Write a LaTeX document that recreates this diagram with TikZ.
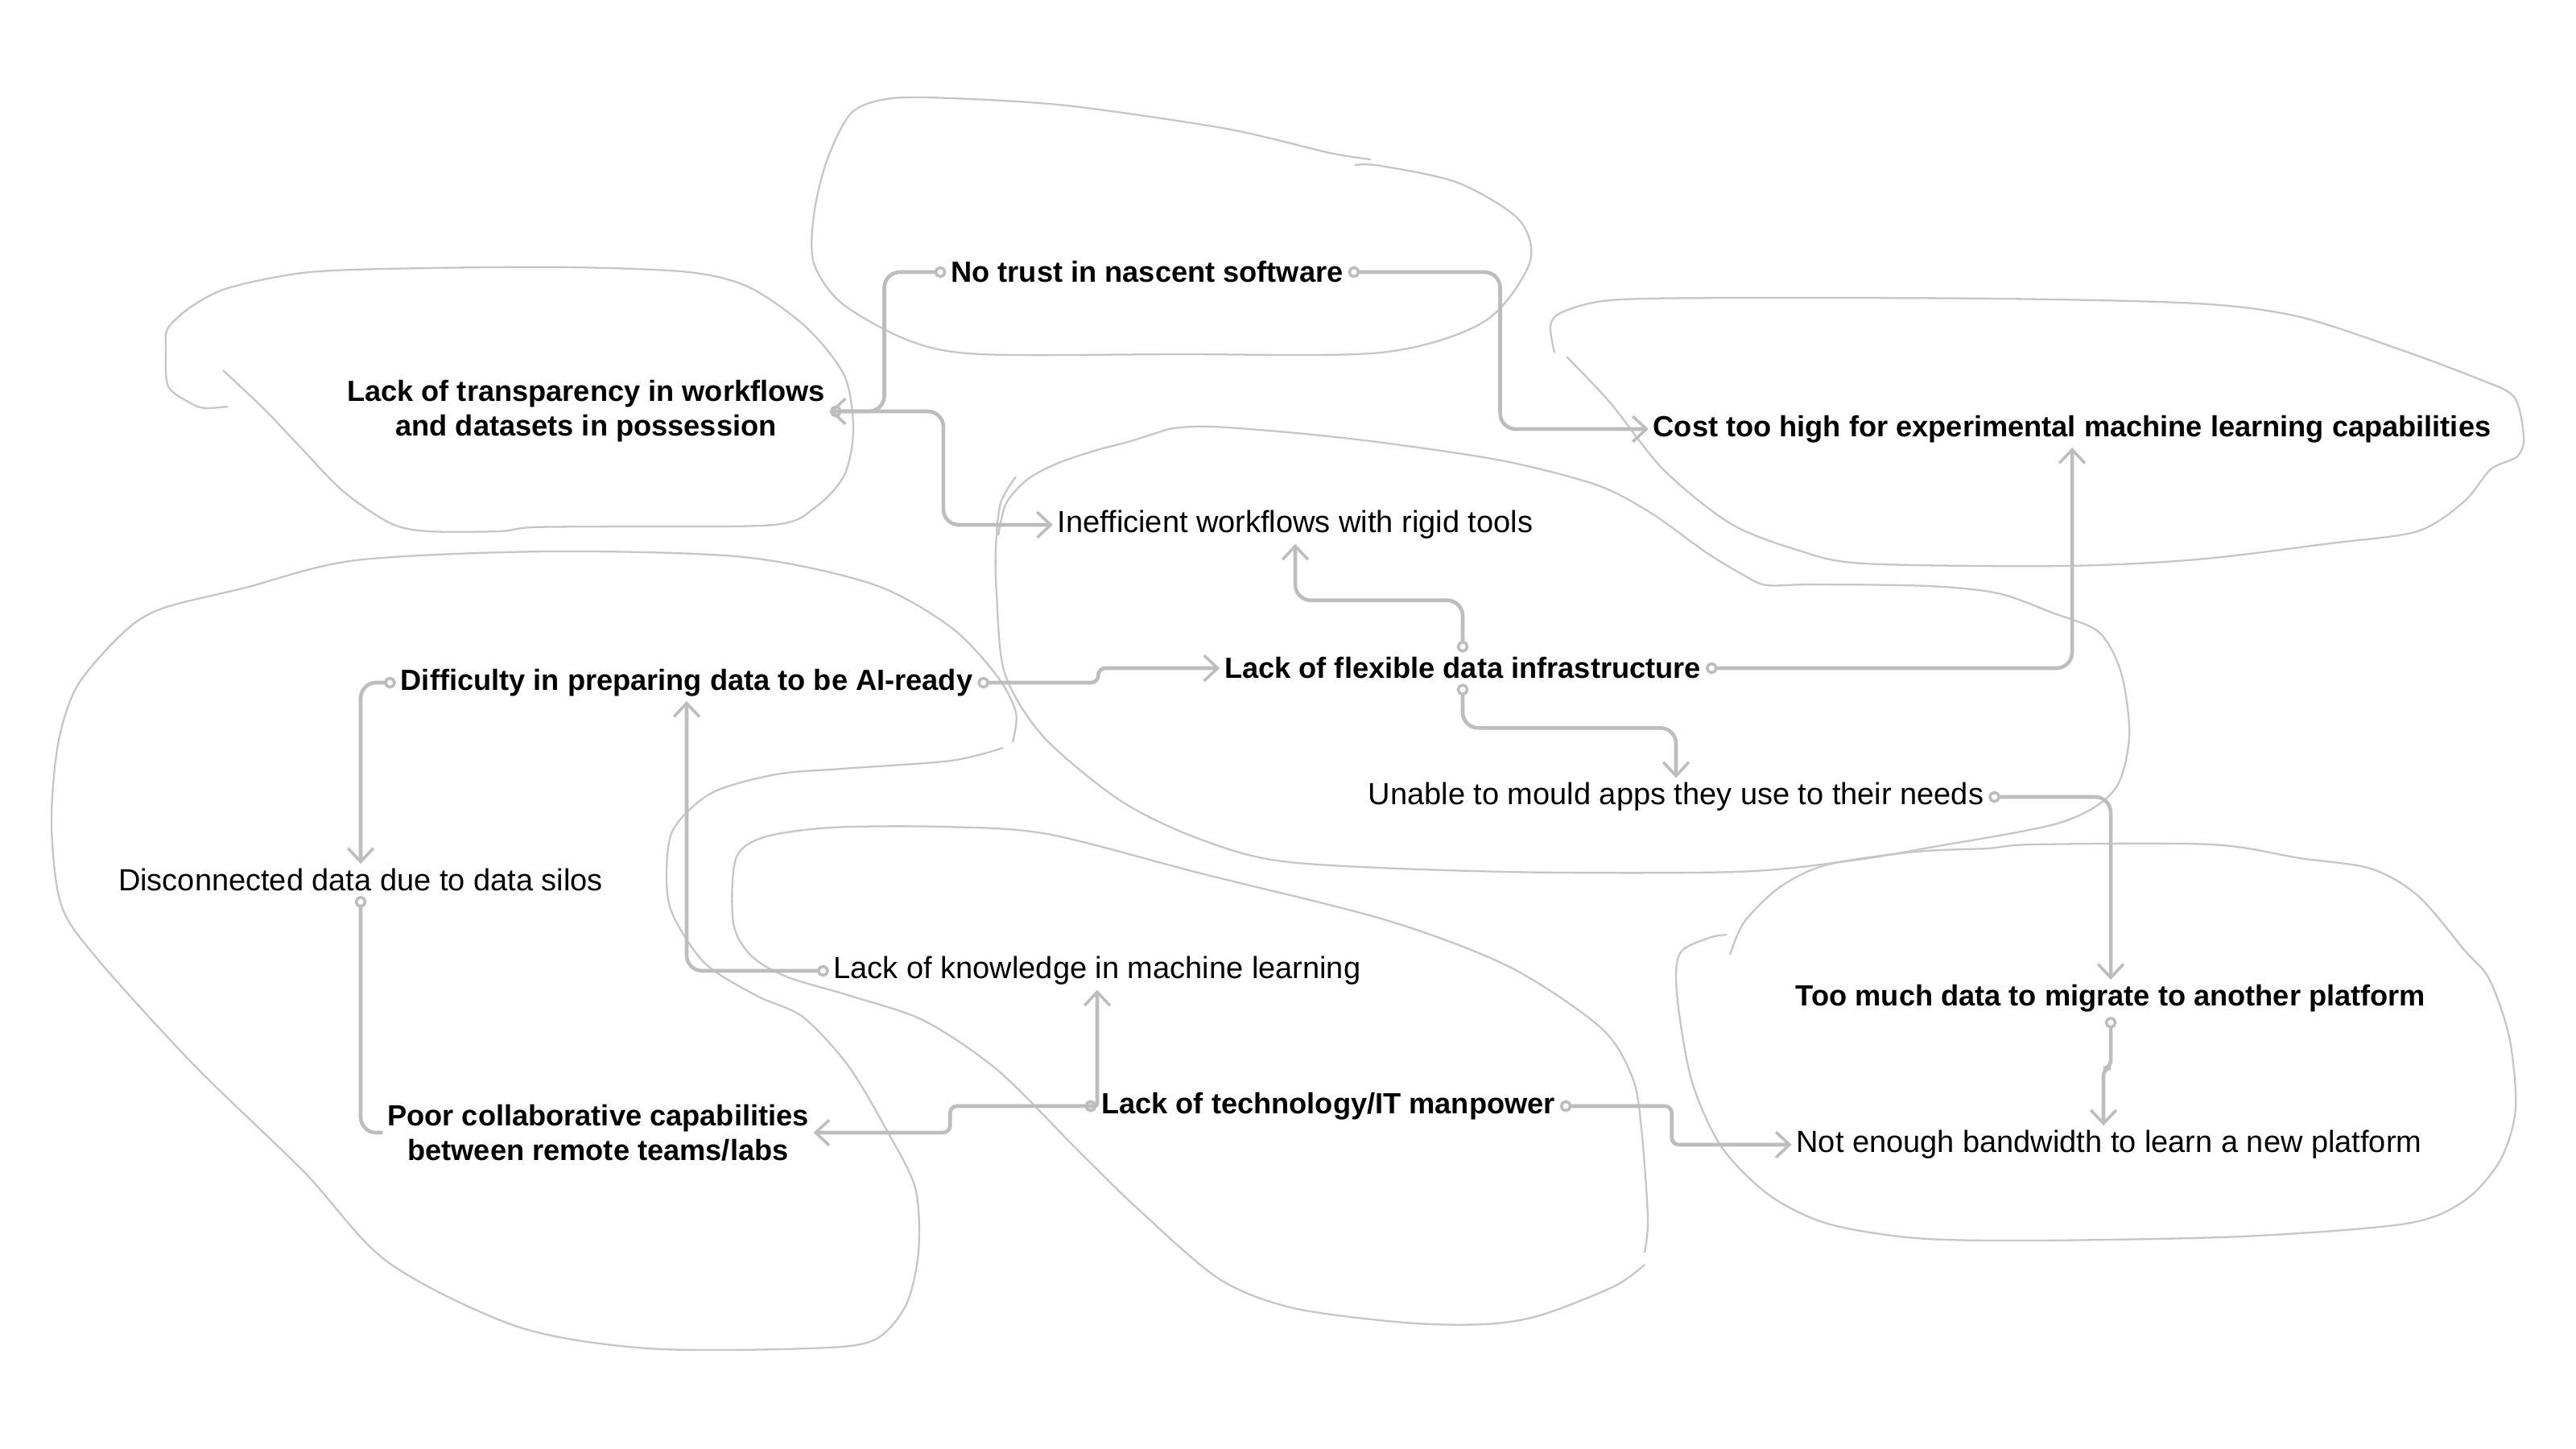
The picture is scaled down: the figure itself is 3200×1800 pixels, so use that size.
\documentclass[tikz,border=0pt]{standalone}
\usepackage{fontspec}
\setmainfont{Liberation Sans}
\usetikzlibrary{arrows.meta}
\definecolor{linkgray}{HTML}{BDBDBD}
\definecolor{blobgray}{HTML}{C6C6C6}
\begin{document}
\begin{tikzpicture}[x=0.01cm, y=-0.01cm,
    main/.style = {inner sep=1.5pt, align=center, font=\fontsize{10.3}{12.2}\selectfont\bfseries},
    side/.style = {inner sep=1.5pt, font=\fontsize{10.8}{13}\selectfont},
    knob/.tip = {Circle[open, length=4.2pt, line width=1pt]},
    barb/.tip = {Straight Barb[length=4.8pt, width=9pt, line width=1pt]},
    link/.style = {draw=linkgray, line width=1.3pt, rounded corners=5.5pt, knob-barb},
    blob/.style = {draw=blobgray, line width=0.65pt}]
  \useasboundingbox (0,0) rectangle (3200,1800);
  % hand drawn groups
  \draw[blob] plot[smooth] coordinates {(1703,198) (1652,190) (1524,160) (1333,132) (1205,123) (1109,122) (1058,140) (1027,200) (1011,267) (1011,327) (1046,377) (1129,423) (1218,440) (1460,440) (1715,438) (1843,400) (1900,327) (1887,273) (1811,227) (1715,206) (1683,205)};
  \draw[blob] plot[smooth] coordinates {(283,505) (256,507) (239,502) (209,480) (206,433) (209,407) (239,380) (286,357) (385,338) (532,333) (708,332) (855,338) (931,357) (1002,407) (1049,467) (1060,533) (1049,590) (1013,630) (961,652) (767,654) (661,655) (620,660) (532,660) (485,650) (426,610) (368,550) (327,507) (277,460)};
  \draw[blob] plot[smooth] coordinates {(1931,438) (1926,405) (1940,388) (2000,373) (2149,370) (2480,371) (2729,377) (2854,393) (2978,433) (3077,470) (3123,493) (3135,543) (3127,567) (3094,583) (3061,623) (3003,660) (2895,675) (2729,695) (2563,703) (2315,700) (2232,683) (2149,650) (2066,583) (2000,500) (1946,443)};
  \draw[blob] plot[smooth] coordinates {(1262,592) (1243,625) (1237,680) (1238,737) (1248,836) (1296,915) (1391,994) (1487,1041) (1602,1071) (1870,1083) (2157,1083) (2300,1069) (2396,1053) (2559,1022) (2626,982) (2645,915) (2635,836) (2607,785) (2549,761) (2482,737) (2396,728) (2253,726) (2195,727) (2167,715) (2119,686) (2052,638) (1985,603) (1870,573) (1726,551) (1611,538) (1506,530) (1458,532) (1430,540) (1401,549) (1363,559) (1315,575) (1277,595) (1250,625) (1240,665)};
  \draw[blob] plot[smooth] coordinates {(1246,929) (1181,945) (1045,955) (964,962) (884,985) (836,1031) (828,1091) (836,1137) (876,1197) (940,1237) (997,1263) (1053,1323) (1101,1403) (1137,1476) (1141,1555) (1125,1622) (1085,1665) (1005,1675) (804,1675) (643,1648) (482,1568) (378,1456) (241,1323) (120,1190) (76,1124) (64,1025) (72,925) (96,852) (153,786) (201,756) (305,730) (442,696) (683,685) (924,692) (1085,726) (1181,779) (1238,839) (1262,885) (1258,922)};
  \draw[blob] plot[smooth] coordinates {(2043,1556) (2047,1513) (2039,1402) (2028,1339) (1989,1277) (1875,1201) (1722,1143) (1492,1085) (1301,1036) (1171,1027) (1033,1028) (949,1040) (914,1067) (911,1147) (934,1188) (979,1214) (1056,1237) (1148,1268) (1240,1330) (1339,1429) (1416,1504) (1515,1589) (1607,1625) (1745,1643) (1844,1645) (1913,1634) (2005,1598) (2043,1571)};
  \draw[blob] plot[smooth] coordinates {(2149,1186) (2167,1145) (2211,1102) (2270,1074) (2380,1058) (2468,1054) (2527,1049) (2747,1049) (2857,1066) (2945,1079) (3004,1113) (3062,1181) (3092,1216) (3117,1288) (3125,1377) (3106,1441) (3062,1491) (2989,1520) (2784,1536) (2527,1541) (2380,1538) (2270,1520) (2197,1484) (2138,1424) (2101,1341) (2083,1234) (2087,1184) (2123,1165) (2145,1161)};
  % problems
  \node[main] (notrust) at (1425,338) {No trust in nascent software};
  \node[main] (transp) at (728,511) {Lack of transparency in workflows\\and datasets in possession};
  \node[main] (cost) at (2574,533) {Cost too high for experimental machine learning capabilities};
  \node[side] (ineff) at (1609,652) {Inefficient workflows with rigid tools};
  \node[main] (flexible) at (1817,830) {Lack of flexible data infrastructure};
  \node[main] (difficulty) at (853,848) {Difficulty in preparing data to be AI-ready};
  \node[side] (unable) at (2082,990) {Unable to mould apps they use to their needs};
  \node[side] (silos) at (448,1093) {Disconnected data due to data silos};
  \node[side] (knowledge) at (1363,1206) {Lack of knowledge in machine learning};
  \node[main] (toomuch) at (2622,1240) {Too much data to migrate to another platform};
  \node[main] (techit) at (1650,1374) {Lack of technology/IT manpower};
  \node[main] (poor) at (743,1407) {Poor collaborative capabilities\\between remote teams/labs};
  \node[side] (bandwidth) at (2620,1422) {Not enough bandwidth to learn a new platform};
  % links
  \draw[link] (notrust.west) -- ++(-77,0) |- (transp.east);
  \draw[link] (transp.east) -- ++(141,0) |- (ineff.west);
  \draw[link] (notrust.east) -- ++(189,0) |- (cost.west);
  \draw[link] (flexible.north) -- ++(0,-65) -| (ineff.south);
  \draw[link] (flexible.south) -- ++(0,55) -| (unable.north);
  \draw[link] (flexible.east) -| (cost.south);
  \draw[link, rounded corners=2.5pt] (difficulty.east) -- ++(150,0) |- (flexible.west);
  \draw[link] (unable.east) -| (toomuch.north);
  \draw[link, rounded corners=2.5pt] (toomuch.south) -- ++(0,64) -| ([xshift=-0.07cm]bandwidth.north);
  \draw[link] (difficulty.west) -| (silos.north);
  \draw[link, knob-] (silos.south) |- (poor.west);
  \draw[link] (knowledge.west) -| (difficulty.south);
  \draw[link, rounded corners=1pt] (techit.west) -| (knowledge.south);
  \draw[link, rounded corners=2.5pt] (techit.west) -- ++(-182,0) |- (poor.east);
  \draw[link, rounded corners=2.5pt] (techit.east) -- ++(139,0) |- (bandwidth.west);
\end{tikzpicture}
\end{document}
